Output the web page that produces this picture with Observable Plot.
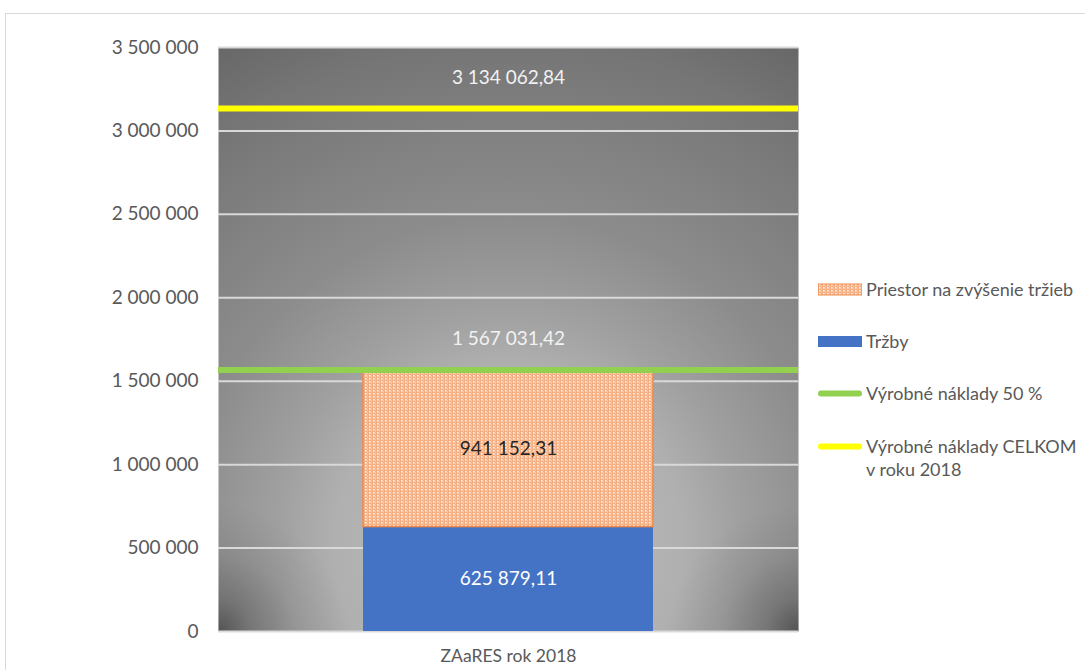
<!DOCTYPE html>
<html>
<head>
<meta charset="utf-8">
<script src="https://cdn.jsdelivr.net/npm/d3@7"></script>
<script src="https://cdn.jsdelivr.net/npm/@observablehq/plot@0.6"></script>
<style>
  html, body { margin: 0; padding: 0; background: #fff; width: 1085px; height: 670px; overflow: hidden; }
  #wrap { position: relative; width: 1085px; height: 670px; font-family: Lato, "Open Sans", sans-serif; }
  #border { position: absolute; left: 5px; top: 13px; width: 1100px; height: 700px; border: 1px solid #d9d9d9; box-sizing: border-box; }
  #chart { position: absolute; left: 0; top: 0; }
  #legend { position: absolute; left: 818px; top: 0; color: #595959; font-size: 18px; }
  .item { position: absolute; left: 0; display: flex; align-items: flex-start; white-space: nowrap; }
  .sw { width: 44px; margin-right: 4px; flex: none; }
  .lbl { line-height: 23px; }
</style>
</head>
<body>
<div id="wrap">
  <div id="border"></div>
  <div id="chart"></div>
  <div id="legend"></div>
</div>
<script>
// ---- data ----
const categories = ["ZAaRES rok 2018"];
const seriesNames = ["Tržby", "Priestor na zvýšenie tržieb"];
const seriesValues = [625879.11, 941152.31];
const vyrobne50 = [1567031.42];
const vyrobneCelkom = [3134062.84];
const yTicks = [0, 500000, 1000000, 1500000, 2000000, 2500000, 3000000, 3500000];
const legendLabels = ["Priestor na zvýšenie tržieb", "Tržby", "Výrobné náklady 50 %", "Výrobné náklady CELKOM\nv roku 2018"];

// ---- formatting ----
const loc = d3.formatLocale({decimal: ",", thousands: " ", grouping: [3], currency: ["", ""]});
const fmtVal = loc.format(",.2f");
const fmtTick = loc.format(",.0f");

const barFill = {"Tržby": "#4472c4", "Priestor na zvýšenie tržieb": "url(#dots)"};
const barStroke = {"Tržby": "none", "Priestor na zvýšenie tržieb": "#f08a4b"};
const textFill = {"Tržby": "#ffffff", "Priestor na zvýšenie tržieb": "#262626"};

const rows = seriesNames.map((s, i) => ({cat: categories[0], series: s, value: seriesValues[i]}));

const chart = Plot.plot({
  width: 1085,
  height: 670,
  marginLeft: 218,
  marginRight: 287,
  marginTop: 47,
  marginBottom: 39,
  style: {fontFamily: "Lato, 'Open Sans', sans-serif", fontSize: "19px", color: "#595959", background: "transparent", overflow: "visible"},
  x: {domain: categories, paddingInner: 0, paddingOuter: 0.5, axis: null, label: null},
  y: {domain: [0, 3500000], axis: null, label: null},
  color: {type: "identity"},
  marks: [
    Plot.frame({fill: "url(#bg)", stroke: "none"}),
    Plot.frame({fill: "url(#vigL)", stroke: "none"}),
    Plot.frame({fill: "url(#vigR)", stroke: "none"}),
    Plot.ruleY(yTicks, {stroke: "#d9d9d9", strokeWidth: 2}),
    Plot.barY(rows, Plot.stackY({
      x: "cat", y: "value",
      fill: d => barFill[d.series],
      stroke: d => barStroke[d.series],
      strokeWidth: 1.5,
      inset: 0
    })),
    Plot.ruleY(vyrobne50, {stroke: "#92d050", strokeWidth: 6}),
    Plot.ruleY(vyrobneCelkom, {stroke: "#ffff00", strokeWidth: 6}),
    Plot.text(rows, Plot.stackY({
      x: "cat", y: "value",
      text: d => fmtVal(d.value),
      fill: d => textFill[d.series],
      fontSize: 19
    })),
    Plot.text(vyrobne50, {y: d => d, text: d => fmtVal(d), fill: "#f2f2f2", fontSize: 19, dy: -31}),
    Plot.text(vyrobneCelkom, {y: d => d, text: d => fmtVal(d), fill: "#f2f2f2", fontSize: 19, dy: -31}),
    Plot.axisY(yTicks, {tickSize: 0, tickPadding: 20, tickFormat: fmtTick, fontSize: 19, fill: "#595959", label: null}),
    Plot.axisX({tickSize: 0, tickPadding: 18, fontSize: 17.5, fill: "#595959", label: null})
  ]
});

// gradient + pattern defs
const svg = d3.select(chart);
const defs = svg.insert("defs", ":first-child");
const rg = defs.append("radialGradient")
  .attr("id", "bg")
  .attr("cx", 0.5).attr("cy", 0.85).attr("r", 1).attr("fx", 0.5).attr("fy", 0.85);
[[0, "#bebebe"], [0.3, "#b0b0b0"], [0.4, "#a0a0a0"], [0.56, "#8c8c8c"], [0.85, "#767676"], [1, "#666666"]].forEach(([o, c]) =>
  rg.append("stop").attr("offset", o).attr("stop-color", c));
[["vigL", 0], ["vigR", 1]].forEach(([id, cx]) => {
  const v = defs.append("radialGradient").attr("id", id)
    .attr("cx", cx).attr("cy", 1).attr("r", 0.22).attr("fx", cx).attr("fy", 1);
  v.append("stop").attr("offset", 0).attr("stop-color", "#000").attr("stop-opacity", 0.42);
  v.append("stop").attr("offset", 0.25).attr("stop-color", "#000").attr("stop-opacity", 0.22);
  v.append("stop").attr("offset", 0.6).attr("stop-color", "#000").attr("stop-opacity", 0.07);
  v.append("stop").attr("offset", 1).attr("stop-color", "#000").attr("stop-opacity", 0);
});
const pat = defs.append("pattern").attr("id", "dots").attr("patternUnits", "userSpaceOnUse")
  .attr("width", 4).attr("height", 3);
pat.append("rect").attr("width", 4).attr("height", 3).attr("fill", "#f4ad80");
pat.append("rect").attr("x", 1).attr("y", 0).attr("width", 1.6).attr("height", 1.6).attr("fill", "#fff").attr("fill-opacity", 0.85);
pat.append("rect").attr("x", 3).attr("y", 1.5).attr("width", 1).attr("height", 1).attr("fill", "#fff").attr("fill-opacity", 0.5);

document.getElementById("chart").appendChild(chart);

// legend (HTML)
const legend = d3.select("#legend");
const items = [
  {top: 278, type: "pattern", label: legendLabels[0]},
  {top: 330, type: "blue", label: legendLabels[1]},
  {top: 382, type: "green", label: legendLabels[2]},
  {top: 435, type: "yellow", label: legendLabels[3]}
];
items.forEach(it => {
  const div = legend.append("div").attr("class", "item").style("top", it.top + "px");
  const sw = div.append("svg").attr("class", "sw").attr("width", 44).attr("height", 23);
  if (it.type === "pattern") {
    sw.append("rect").attr("x", 0).attr("y", 6).attr("width", 44).attr("height", 11).attr("fill", "url(#dots)").attr("stroke", "#f08a4b").attr("stroke-width", 1);
  } else if (it.type === "blue") {
    sw.append("rect").attr("x", 0).attr("y", 6).attr("width", 44).attr("height", 11).attr("fill", "#4472c4");
  } else {
    sw.append("line").attr("x1", 3).attr("x2", 41).attr("y1", 11.5).attr("y2", 11.5)
      .attr("stroke", it.type === "green" ? "#92d050" : "#ffff00").attr("stroke-width", 6).attr("stroke-linecap", "round");
  }
  div.append("div").attr("class", "lbl").html(it.label.replace("\n", "<br>"));
});
</script>
</body>
</html>
